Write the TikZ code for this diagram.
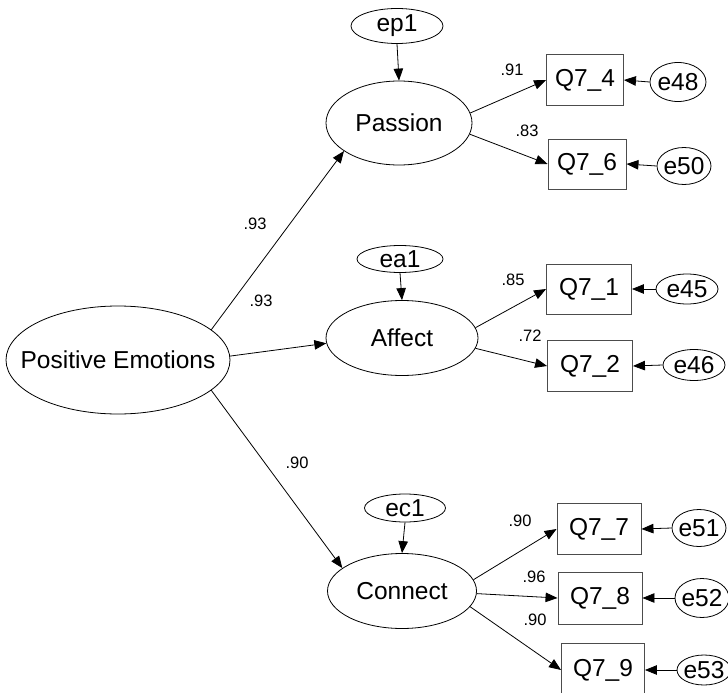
\documentclass[tikz,border=0pt]{standalone}
\usepackage{fontspec}
\setmainfont{Liberation Sans}
\usetikzlibrary{shapes.geometric,arrows.meta}
\begin{document}
\begin{tikzpicture}[x=1pt,y=-1pt,
  lat/.style={draw=black,line width=0.8pt,ellipse,inner xsep=-9pt,inner ysep=-4pt,font=\fontsize{24.5}{27}\selectfont},
  obs/.style={draw=black!70,line width=0.9pt,rectangle,inner sep=0pt,font=\fontsize{24.5}{27}\selectfont},
  lbl/.style={font=\fontsize{16.5}{18}\selectfont,inner sep=0pt},
  path/.style={line width=0.8pt,-{Triangle[length=12pt,width=9.5pt]}}]
\useasboundingbox (0,0) rectangle (728,693);
\clip (0,0) rectangle (728,693);
% latent variables
\node[lat,inner xsep=-40pt,minimum width=224,minimum height=108] (pe) at (118,360) {Positive Emotions};
\node[lat,minimum width=146,minimum height=84] (pas) at (399,123) {Passion};
\node[lat,minimum width=152,minimum height=75] (aff) at (402,338) {Affect};
\node[lat,minimum width=149,minimum height=75] (con) at (402,591) {Connect};
% disturbances
\node[lat,minimum width=92,minimum height=35] (ep1) at (397,26) {ep1};
\node[lat,minimum width=86,minimum height=27] (ea1) at (400,259) {ea1};
\node[lat,minimum width=81,minimum height=28] (ec1) at (405,508) {ec1};
% observed
\node[obs,minimum width=77,minimum height=51] (q74) at (585,80) {Q7\_4};
\node[obs,minimum width=78,minimum height=50] (q76) at (587,164) {Q7\_6};
\node[obs,minimum width=85,minimum height=50] (q71) at (589,289) {Q7\_1};
\node[obs,minimum width=85,minimum height=51] (q72) at (590,366) {Q7\_2};
\node[obs,minimum width=84,minimum height=51] (q77) at (599,529) {Q7\_7};
\node[obs,minimum width=84,minimum height=52] (q78) at (600,598) {Q7\_8};
\node[obs,minimum width=83,minimum height=54] (q79) at (603,670) {Q7\_9};
% errors
\node[lat,minimum width=56,minimum height=39] (e48) at (678,82) {e48};
\node[lat,minimum width=54,minimum height=37] (e50) at (684,166) {e50};
\node[lat,minimum width=62,minimum height=30] (e45) at (687,289) {e45};
\node[lat,minimum width=62,minimum height=31] (e46) at (694,365) {e46};
\node[lat,minimum width=54,minimum height=37] (e51) at (699,528) {e51};
\node[lat,minimum width=54,minimum height=39] (e52) at (702,598) {e52};
\node[lat,minimum width=54,minimum height=30] (e53) at (704,670) {e53};
% structural paths
\draw[path] (pe.18) -- (pas.207);
\draw[path] (pe.2) -- (aff.184);
\draw[path] (pe.-18) -- (con.159);
\draw[path] (ep1.south) -- (pas.north);
\draw[path] (ea1.south) -- (aff.north);
\draw[path] (ec1.south) -- (con.north);
% loadings
\draw[path] (pas.8) -- (q74.west);
\draw[path] (pas.-9) -- (q76.west);
\draw[path] (aff.8) -- (q71.west);
\draw[path] (aff.-8) -- (q72.west);
\draw[path] (con.9) -- (q77.west);
\draw[path] (con.-2) -- (q78.west);
\draw[path] (con.-13) -- (q79.west);
% error paths
\draw[path] (e48.west) -- (q74.east);
\draw[path] (e50.west) -- (q76.east);
\draw[path] (e45.west) -- (q71.east);
\draw[path] (e46.west) -- (q72.east);
\draw[path] (e51.west) -- (q77.east);
\draw[path] (e52.west) -- (q78.east);
\draw[path] (e53.west) -- (q79.east);
% labels
\node[lbl] (l1) at (255,224) {.93};
\node[lbl] (l2) at (261,301) {.93};
\node[lbl] (l3) at (297,463) {.90};
\node[lbl] (l4) at (512,70) {.91};
\node[lbl] (l5) at (527,131) {.83};
\node[lbl] (l6) at (513,280) {.85};
\node[lbl] (l7) at (530,336) {.72};
\node[lbl] (l8) at (520,521) {.90};
\node[lbl] (l9) at (534,577) {.96};
\node[lbl] (l10) at (535,620) {.90};
\end{tikzpicture}
\end{document}
